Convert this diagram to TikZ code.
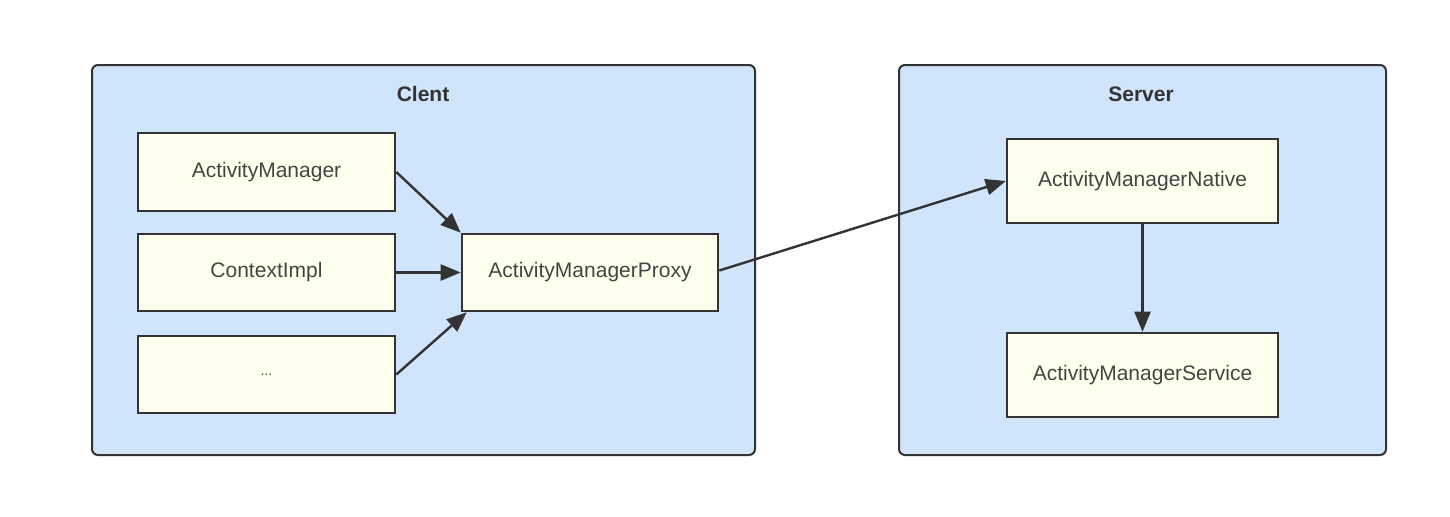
\documentclass[tikz,border=0pt]{standalone}
\usepackage{fontspec}
\setmainfont{Liberation Sans}
\usetikzlibrary{arrows.meta}
\definecolor{cus-blue}{RGB}{208,228,252}
\definecolor{cus-cream}{RGB}{255,255,238}
\definecolor{cus-line}{RGB}{51,51,51}
\definecolor{cus-text}{RGB}{68,68,68}
\tikzset{
  group/.style = {draw=cus-line, line width=1pt, rounded corners=3pt, fill=cus-blue},
  classbox/.style = {draw=cus-line, line width=1.3pt, fill=cus-cream, rectangle,
    text=cus-text, font=\fontsize{10.5}{12}\selectfont, inner sep=0pt},
  link/.style = {draw=cus-line, line width=1.2pt, -{Triangle[length=10pt,width=8pt]}}
}
\begin{document}
\begin{tikzpicture}[x=0.5pt, y=-0.5pt]
\useasboundingbox (0,0) rectangle (1450,516);
% containers
\draw [group] (92,65) rectangle (755,455);
\draw [group] (899,65) rectangle (1386,455);
\node [font=\bfseries\fontsize{10.5}{12}\selectfont, text=cus-line] (client) at (423,94) {Clent};
\node [font=\bfseries\fontsize{10.5}{12}\selectfont, text=cus-line] (server) at (1141,94) {Server};
% client side
\node [classbox, minimum width=128.5pt, minimum height=39pt] (am) at (266.5,172) {ActivityManager};
\node [classbox, minimum width=128.5pt, minimum height=38.5pt] (ctx) at (266.5,272.5) {ContextImpl};
\node [classbox, minimum width=128.5pt, minimum height=38.5pt] (more) at (266.5,374.5) {\fontsize{7}{8}\selectfont ...};
\node [classbox, minimum width=128pt, minimum height=38.5pt] (proxy) at (590,272.5) {ActivityManagerProxy};
% server side
\node [classbox, minimum width=135.5pt, minimum height=42pt] (native) at (1142.5,181) {ActivityManagerNative};
\node [classbox, minimum width=135.5pt, minimum height=42pt] (service) at (1142.5,375) {ActivityManagerService};
% connectors
\draw [link] (am.east) -- (proxy.north west);
\draw [link] (ctx.east) -- (proxy.west);
\draw [link] (more.east) -- ([xshift=3pt]proxy.south west);
\draw [link] ([yshift=1pt]proxy.east) -- (native.west);
\draw [link] (native.south) -- (service.north);
\end{tikzpicture}
\end{document}
